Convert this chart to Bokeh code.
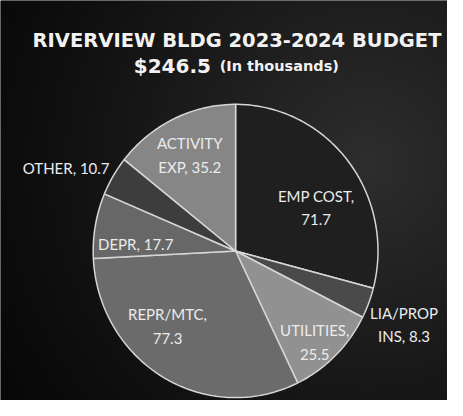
import numpy as np
from bokeh.plotting import figure
from bokeh.models import ColumnDataSource, Range1d
from bokeh.core.properties import value
from bokeh.embed import file_html
from bokeh.resources import INLINE

# ---- data ----
categories = ["EMP COST", "LIA/PROP INS", "UTILITIES", "REPR/MTC", "DEPR", "OTHER", "ACTIVITY EXP"]
amounts = [71.7, 8.3, 25.5, 77.3, 17.7, 10.7, 35.2]
label_texts = ["EMP COST,\n71.7", "LIA/PROP\nINS, 8.3", "UTILITIES,\n25.5", "REPR/MTC,\n77.3",
               "DEPR, 17.7", "OTHER, 10.7", "ACTIVITY\nEXP, 35.2"]
total_text = "$246.5"
unit_text = "(In thousands)"
title_text = "RIVERVIEW BLDG 2023-2024 BUDGET"

# ---- styling / layout (coordinates in a 463 x 416 canvas, y measured from the top) ----
RW, RH = 463, 416
def Y(v):
    return RH - v

slice_colors = ["#1f1f1f", "#4a4a4a", "#919191", "#6b6b6b", "#676767", "#3d3d3d", "#868686"]
label_pos_x = [327, 418, 325.5, 173, 140, 68, 196]
label_pos_y = [Y(v) for v in [215.5, 337, 355, 338.5, 253, 174, 160.5]]
cx, cy, rx, ry = 243.5, Y(260.5), 147.5, 152.5

W, H = 447, 400
p = figure(width=W, height=H, output_backend="svg", toolbar_location=None,
           x_range=Range1d(0, RW), y_range=Range1d(0, RH), min_border=0)
p.axis.visible = False
p.grid.visible = False
p.outline_line_color = None
p.background_fill_color = "#111111"
p.border_fill_color = "#111111"

# background radial gradient
yy, xx = np.mgrid[0:RH, 0:RW]
d = np.sqrt((xx - 380.0) ** 2 + (yy - Y(170.0)) ** 2)
t = np.clip(1 - d / 450.0, 0, 1)
b = (8 + 38 * t ** 1.2).astype(np.uint32)
img = (np.uint32(0xFF000000) | (b << 16) | (b << 8) | b).astype(np.uint32)
p.image_rgba(image=[img], x=0, y=0, dw=RW, dh=RH)

# pie slices (clockwise from 12 o'clock)
vals = np.array(amounts, dtype=float)
tot = vals.sum()
cum = np.concatenate([[0], np.cumsum(vals)])
xs, ys = [], []
for i in range(len(vals)):
    a0 = np.pi / 2 - 2 * np.pi * cum[i] / tot
    a1 = np.pi / 2 - 2 * np.pi * cum[i + 1] / tot
    n = max(8, int(abs(a1 - a0) * 60))
    th = np.linspace(a0, a1, n)
    xs.append([cx] + list(cx + rx * np.cos(th)) + [cx])
    ys.append([cy] + list(cy + ry * np.sin(th)) + [cy])
src = ColumnDataSource(dict(xs=xs, ys=ys, color=slice_colors, name=categories, amount=amounts))
p.patches("xs", "ys", source=src, fill_color="color", line_color="#d6d6d6", line_width=1.5)

# data labels
lsrc = ColumnDataSource(dict(x=label_pos_x, y=label_pos_y, text=label_texts))
p.text("x", "y", text="text", source=lsrc, text_align="center", text_baseline="middle",
       text_font=value("Lato"), text_font_size="15px", text_color="#ececec",
       text_line_height=1.3)

# titles
p.text(x=[245], y=[Y(42)], text=[title_text], text_align="center", text_baseline="alphabetic",
       text_font=value("DejaVu Sans"), text_font_style="bold", text_font_size="19.5px",
       text_color="#f2f2f2")
p.text(x=[138], y=[Y(68)], text=[total_text], text_align="left", text_baseline="alphabetic",
       text_font=value("DejaVu Sans"), text_font_style="bold", text_font_size="20px",
       text_color="#f2f2f2")
p.text(x=[227], y=[Y(68)], text=[unit_text], text_align="left", text_baseline="alphabetic",
       text_font=value("DejaVu Sans"), text_font_style="bold", text_font_size="14.5px",
       text_color="#f2f2f2")

open("out.html", "w").write(file_html(p, INLINE))
